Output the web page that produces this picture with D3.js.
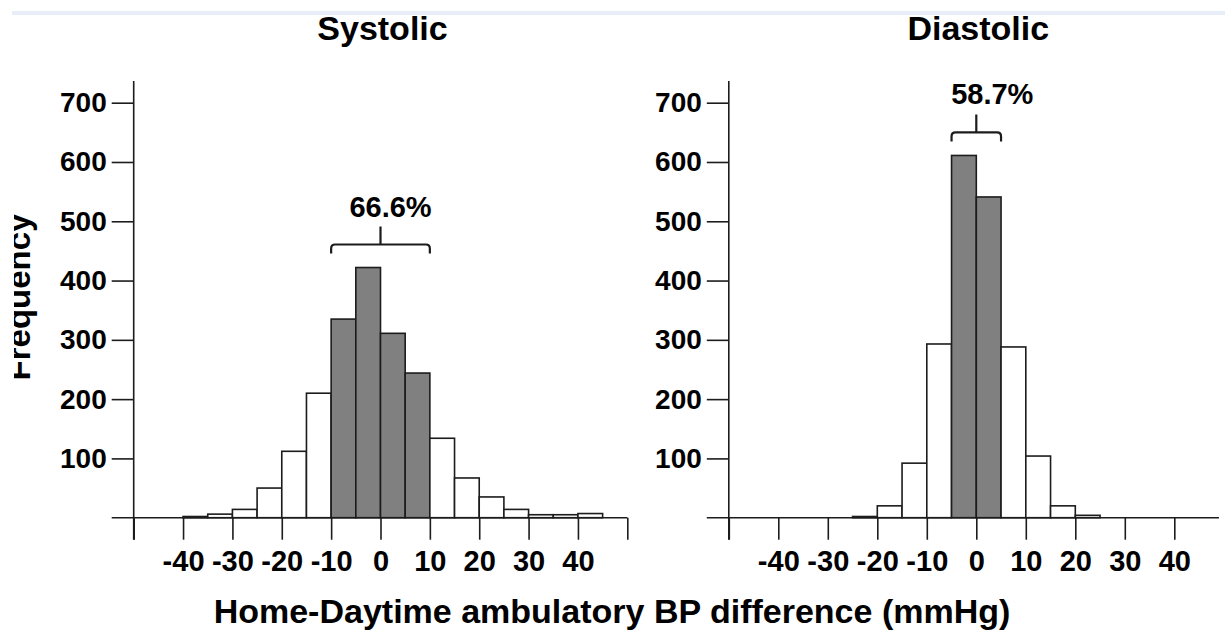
<!DOCTYPE html>
<html>
<head>
<meta charset="utf-8">
<script src="https://cdn.jsdelivr.net/npm/d3@7"></script>
<style>
  html, body { margin: 0; padding: 0; background: #fff; }
  svg { display: block; font-family: "Liberation Sans", Arial, Helvetica, sans-serif; font-weight: bold; }
</style>
</head>
<body>
<svg id="chart" width="1225" height="637"></svg>
<script>
// Histogram bins are 5 mmHg wide; each array lists the left edges of the bins.
const binWidth = 5;

const systolicBinStarts = [-40, -35, -30, -25, -20, -15, -10, -5, 0, 5, 10, 15, 20, 25, 30, 35, 40];
const systolicCounts    = [2, 6, 14, 50, 112, 210, 335, 422, 311, 244, 134, 67, 35, 14, 5, 5, 7];
const systolicBand      = [-10, 10];
const systolicBandLabel = "66.6%";

const diastolicBinStarts = [-25, -20, -15, -10, -5, 0, 5, 10, 15, 20];
const diastolicCounts    = [2, 20, 92, 293, 611, 541, 288, 104, 20, 4];
const diastolicBand      = [-5, 5];
const diastolicBandLabel = "58.7%";

const panelTitles   = ["Systolic", "Diastolic"];
const xTickValues   = [-50, -40, -30, -20, -10, 0, 10, 20, 30, 40, 50];
const xTickLabels   = ["", "-40", "-30", "-20", "-10", "0", "10", "20", "30", "40", ""];
const yTickValues   = [100, 200, 300, 400, 500, 600, 700];
const xAxisTitle    = "Home-Daytime ambulatory BP difference (mmHg)";
const yAxisTitle    = "Frequency";

const svg = d3.select("#chart");

// thin pale band across the top of the figure
svg.append("rect")
  .attr("x", 12).attr("y", 11).attr("width", 1213).attr("height", 4)
  .attr("fill", "#e8eef7");

const y = d3.scaleLinear().domain([0, 700]).range([517.7, 102.7]);

const panels = [
  { title: panelTitles[0], starts: systolicBinStarts, counts: systolicCounts,
    band: systolicBand, bandLabel: systolicBandLabel,
    range: [133.7, 627.3], axisEnd: 627.3, labelShift: 10, ticks: xTickValues },
  { title: panelTitles[1], starts: diastolicBinStarts, counts: diastolicCounts,
    band: diastolicBand, bandLabel: diastolicBandLabel,
    range: [728.8, 1223.8], axisEnd: 1219, labelShift: 16, ticks: xTickValues.slice(0, -1) }
];

const ink = "#1c1c1c";
const tickLen = 22;

panels.forEach(p => {
  const x = d3.scaleLinear().domain([-50, 50]).range(p.range);
  const g = svg.append("g");

  const bins = p.starts.map((s, i) => ({ x0: s, x1: s + binWidth, n: p.counts[i] }));
  const inBand = b => b.x0 >= p.band[0] && b.x1 <= p.band[1];

  // histogram bars
  g.selectAll("rect.bar").data(bins).join("rect")
    .attr("class", "bar")
    .attr("x", d => x(d.x0))
    .attr("width", d => x(d.x1) - x(d.x0))
    .attr("y", d => y(d.n))
    .attr("height", d => y(0) - y(d.n))
    .attr("fill", d => inBand(d) ? "#808080" : "#ffffff")
    .attr("stroke", ink)
    .attr("stroke-width", 1.6);

  // y axis
  const yAxis = d3.axisLeft(y).tickValues(yTickValues).tickSize(tickLen).tickPadding(5)
    .tickFormat(d => String(d));
  const ya = g.append("g").attr("transform", `translate(${p.range[0]},0)`).call(yAxis);
  ya.select(".domain").remove();
  ya.selectAll("line").attr("stroke", ink).attr("stroke-width", 1.6);
  ya.selectAll("text").attr("font-size", 28).attr("fill", "#000");

  g.append("line")
    .attr("x1", p.range[0]).attr("x2", p.range[0])
    .attr("y1", 81).attr("y2", y(0) + tickLen)
    .attr("stroke", ink).attr("stroke-width", 1.6);

  // x axis
  const xAxis = d3.axisBottom(x).tickValues(p.ticks).tickSize(tickLen).tickPadding(11)
    .tickFormat(d => xTickLabels[xTickValues.indexOf(d)]);
  const xa = g.append("g").attr("transform", `translate(0,${y(0)})`).call(xAxis);
  xa.select(".domain").remove();
  xa.selectAll("line").attr("stroke", ink).attr("stroke-width", 1.6);
  xa.selectAll("text").attr("font-size", 29).attr("fill", "#000");

  g.append("line")
    .attr("x1", p.range[0] - tickLen).attr("x2", p.axisEnd)
    .attr("y1", y(0)).attr("y2", y(0))
    .attr("stroke", ink).attr("stroke-width", 1.6);

  // bracket over the central bins
  const peak = d3.max(bins.filter(inBand), d => d.n);
  const xa0 = x(p.band[0]), xb0 = x(p.band[1]), xm = (xa0 + xb0) / 2;
  const yEnd = y(peak) - 14, yH = yEnd - 9, r = 4;
  g.append("path")
    .attr("d", `M${xa0},${yEnd} L${xa0},${yH + r} Q${xa0},${yH} ${xa0 + r},${yH} ` +
               `L${xb0 - r},${yH} Q${xb0},${yH} ${xb0},${yH + r} L${xb0},${yEnd} ` +
               `M${xm},${yH} L${xm},${yH - 18}`)
    .attr("fill", "none").attr("stroke", ink).attr("stroke-width", 2.2);
  g.append("text")
    .attr("x", xm + p.labelShift).attr("y", yH - 28)
    .attr("text-anchor", "middle").attr("font-size", 29)
    .text(p.bandLabel);

  // panel title
  g.append("text")
    .attr("x", x(0) + 2).attr("y", 40)
    .attr("text-anchor", "middle").attr("font-size", 34)
    .text(p.title);
});

// shared axis titles
svg.append("text")
  .attr("x", 612).attr("y", 623)
  .attr("text-anchor", "middle").attr("font-size", 34)
  .text(xAxisTitle);

const clip = svg.append("defs").append("clipPath").attr("id", "ytitle-clip");
clip.append("rect").attr("x", 14).attr("y", 0).attr("width", 200).attr("height", 637);

svg.append("g").attr("clip-path", "url(#ytitle-clip)")
  .append("text")
  .attr("transform", "translate(30,297) rotate(-90)")
  .attr("text-anchor", "middle").attr("font-size", 33)
  .text(yAxisTitle);
</script>
</body>
</html>
